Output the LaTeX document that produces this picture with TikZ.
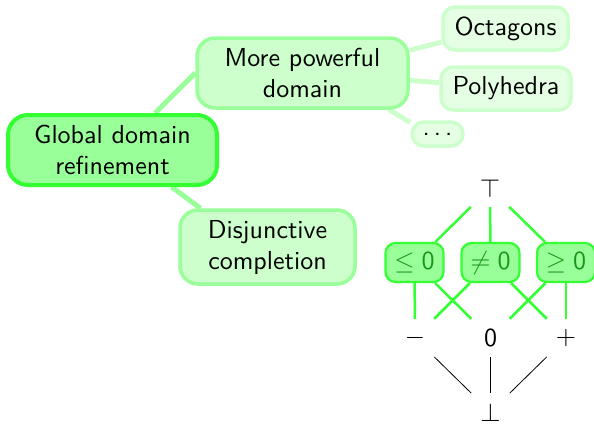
\documentclass[tikz,border=0pt]{standalone}
\usepackage{graphicx}
\usepackage{fontspec}
\setsansfont{lmsans10-regular.otf}
\usetikzlibrary{backgrounds}
\definecolor{edgegreen}{RGB}{51,255,51}
\definecolor{latext}{RGB}{25,150,25}
% lattice symbols: set at 10pt and scaled up
\newcommand\latsym[1]{\scalebox{2.6}{\fontsize{10}{12}\selectfont$#1$}}
\begin{document}
\begin{tikzpicture}[x=1pt,y=-1pt,
  font=\sffamily\fontsize{26}{31}\selectfont,
  rootbox/.style={draw=edgegreen, fill=green!40, line width=4pt, rounded corners=20pt,
    align=center, inner sep=0pt, minimum width=209pt, minimum height=70pt},
  childbox/.style={draw=green!40, fill=green!20, line width=3.5pt, rounded corners=18pt,
    align=center, inner sep=0pt},
  leafbox/.style={draw=green!20, fill=green!10, line width=3.5pt, rounded corners=12pt,
    align=center, inner sep=0pt},
  latbox/.style={draw=edgegreen, fill=green!40, line width=2.2pt, rounded corners=10pt,
    text=latext, inner sep=0pt, minimum width=58pt, minimum height=39pt},
  latpt/.style={inner sep=0pt, minimum size=38pt},
  link1/.style={draw=green!40, line width=5pt},
  link2/.style={draw=green!20, line width=5pt},
  latline/.style={draw=edgegreen, line width=2.5pt},
  botline/.style={draw=black, line width=0.8pt}]
\useasboundingbox (0,0) rectangle (594,423);

% mind map
\node[rootbox] (g) at (112.5,150) {Global domain\\refinement};
\node[childbox, minimum width=211pt, minimum height=70pt] (m) at (302.5,73) {More powerful\\domain};
\node[childbox, minimum width=175pt, minimum height=74pt] (d) at (267.5,247) {Disjunctive\\completion};
\node[leafbox, minimum width=125pt, minimum height=43pt] (o) at (505.5,28.5) {Octagons};
\node[leafbox, minimum width=130pt, minimum height=43pt] (p) at (506,88.5) {Polyhedra};
\node[leafbox, minimum width=51pt, minimum height=24pt] (e) at (437.5,134) {.\kern4pt.\kern4pt.};

\begin{scope}[on background layer]
  \draw[link1] (g.41) -- (m.west);
  \draw[link1] (g.-32) -- (d.150);
  \draw[link2] (m.12) -- (o.-168);
  \draw[link2] (m.-4) -- (p.175);
  \draw[link2] (m.-23) -- (e.157);
\end{scope}

% sign lattice
\node[latpt] (top) at (490,188) {\latsym{\top}};
\node[latbox] (le) at (414.5,262.5) {\latsym{\le \mathsf{0}}};
\node[latbox] (ne) at (490.5,262.5) {\latsym{\ne \mathsf{0}}};
\node[latbox] (ge) at (566,262.5) {\latsym{\ge \mathsf{0}}};
\node[latpt] (neg) at (415,338) {\latsym{-}};
\node[latpt] (zero) at (490.5,338) {\latsym{\mathsf{0}}};
\node[latpt] (pos) at (566,338) {\latsym{+}};
\node[latpt] (bot) at (490.5,412) {\latsym{\bot}};

\draw[latline] (top) -- (le);
\draw[latline] (top) -- (ne);
\draw[latline] (top) -- (ge);
\draw[latline] (le) -- (neg);
\draw[latline] (le) -- (zero);
\draw[latline] (ne) -- (neg);
\draw[latline] (ne) -- (pos);
\draw[latline] (ge) -- (zero);
\draw[latline] (ge) -- (pos);
\draw[botline] (neg) -- (bot);
\draw[botline] (zero) -- (bot);
\draw[botline] (pos) -- (bot);
\end{tikzpicture}
\end{document}
